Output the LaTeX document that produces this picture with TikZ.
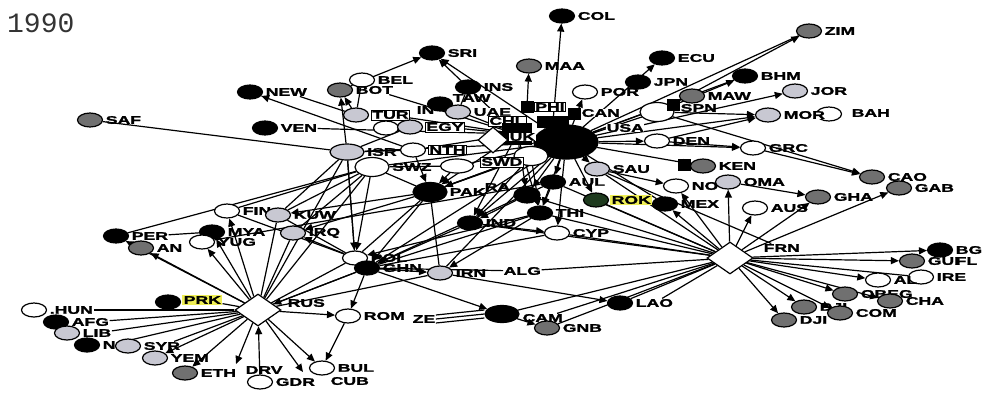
\documentclass[tikz,border=0pt]{standalone}
\usepackage{fontspec}
\usetikzlibrary{shapes.geometric,arrows.meta}
\newfontfamily\lblfont[FakeStretch=1.6, BoldFeatures={FakeBold=2}]{Liberation Sans}
\newfontfamily\yearfont{Liberation Mono}
\definecolor{nodegray}{HTML}{707070}
\definecolor{nodelight}{HTML}{C8C8D2}
\definecolor{hilite}{HTML}{EEEE55}
\definecolor{darkgreen}{HTML}{1E3A1E}
\pgfdeclarelayer{paper}
\pgfdeclarelayer{edges}
\pgfsetlayers{paper,edges,main}
\tikzset{
  cty/.style={ellipse, draw=black, line width=1.2pt, minimum width=25pt, minimum height=14pt, inner sep=0pt},
  blk/.style={cty, fill=black},
  gry/.style={cty, fill=nodegray},
  lgt/.style={cty, fill=nodelight},
  wht/.style={cty, fill=white},
  big/.style={minimum width=34pt, minimum height=19pt},
  sq/.style={rectangle, fill=black, minimum width=13pt, minimum height=12pt, inner sep=0pt},
  dmd/.style={diamond, draw=black, fill=white, line width=1.2pt, minimum width=46pt, minimum height=32pt, inner sep=0pt},
  lbl/.style={font=\lblfont\bfseries\fontsize{11}{12}\selectfont, inner sep=0.5pt, anchor=west},
  boxl/.style={lbl, draw=black, fill=white, line width=0.6pt, inner sep=1pt},
  wl/.style={lbl, fill=white},
  hil/.style={lbl, fill=hilite, inner sep=1.5pt},
  ln/.style={line width=1.2pt},
  ar/.style={ln, -{Triangle[length=8pt,width=7pt]}},
}
% country node with a label to its right
\newcommand\ctry[6][lbl]{%
  \node[#3] (#2) at (#4,#5) {};
  \node[#1] (#2-l) at ([xshift=2pt]#2.east) {#6};}

\begin{document}
\begin{tikzpicture}[x=1pt,y=-1pt]
\useasboundingbox (0,0) rectangle (982,392);
\begin{pgfonlayer}{paper}
\fill[white] (0,0) rectangle (982,392);
\end{pgfonlayer}

\node[font=\yearfont\fontsize{28}{30}\selectfont, text=black!80, anchor=west, inner sep=0pt] (yr) at (7,23) {1990};

% ---- upper group
\ctry{COL}{blk}{562}{16}{COL}
\ctry{ZIM}{gry}{809}{31}{ZIM}
\ctry{SRI}{blk}{432}{53}{SRI}
\ctry{ECU}{blk}{662}{58}{ECU}
\ctry{MAA}{gry}{529}{66}{MAA}
\ctry{BHM}{blk}{745}{76}{BHM}
\ctry{BEL}{wht}{362}{80}{BEL}
\ctry{JPN}{blk}{638}{82}{JPN}
\ctry{INS}{blk}{468}{87}{INS}
\ctry{JOR}{lgt}{795}{91}{JOR}
\ctry{NEW}{blk}{250}{92}{NEW}
\ctry{BOT}{gry}{340}{90}{BOT}
\ctry{POR}{wht}{585}{92}{POR}
\ctry{MAW}{gry}{692}{96}{MAW}
\node[blk] (TAW) at (440,104) {};
\node[lbl] (TAW-l) at (452,98) {TAW};
\ctry[boxl]{TUR}{lgt}{356}{115}{TUR}
\node[lbl] (IN-l) at (416,110) {IN};
\ctry[wl]{UAE}{lgt}{458}{112}{UAE}
\node[sq] (PHI) at (527,107) {};
\node[boxl] (PHI-l) at (534,107) {PHI};
\node[sq] (CAN) at (574,114) {};
\node[wl] (CAN-l) at (581,113) {CAN};
\node[sq, minimum width=32pt] (hb) at (553,122) {};
\node[boxl] (CHL-l) at (488,121) {CHL};
\node[wht, big] (SPN) at (657,112) {};
\node[sq] (SPNb) at (673,105) {};
\node[lbl] (SPN-l) at (680,108) {SPN};
\node[wht] (BAH) at (829,114) {};
\node[lbl] (BAH-l) at (851,113) {BAH};
\ctry[wl]{MOR}{lgt}{768}{115}{MOR}
\ctry{SAF}{gry}{90}{120}{SAF}
\ctry{VEN}{blk}{265}{128}{VEN}
\node[wht] (EGYw) at (386,128) {};
\ctry[boxl]{EGY}{lgt}{410}{127}{EGY}

% ---- central hub
\node[sq, minimum width=30pt, minimum height=22pt] (UK) at (517,134) {};
\node[dmd, minimum width=30pt, minimum height=26pt] (UKd) at (493,140) {};
\node[blk, minimum width=64pt, minimum height=34pt] (USA) at (566,142) {};
\node[wl] (USA-l) at (606,128) {USA};
\node[wht, big] (W1) at (531,156) {};
\node[lbl, fill=white] (UK-l) at (509,137) {UK};
\ctry{DEN}{wht}{657}{141}{DEN}
\ctry{GRC}{wht}{753}{148}{GRC}
\ctry{ISR}{lgt, big, minimum height=16pt}{347}{152}{ISR}
\ctry[boxl]{NTH}{wht}{413}{150}{NTH}
\ctry{SWZ}{wht, big}{372}{167}{SWZ}
\node[wht, minimum width=33pt, minimum height=14pt] (SWD) at (457,166) {};
\node[boxl] (SWD-l) at (480,162) {SWD};
\node[sq] (KENb) at (684,165) {};
\ctry{KEN}{gry}{703}{166}{KEN}
\ctry{SAU}{lgt}{597}{169}{SAU}
\ctry{NOR}{wht}{676}{186}{NO}
\ctry{OMA}{lgt}{728}{182}{OMA}
\ctry{CAO}{gry}{872}{177}{CAO}
\ctry{GAB}{gry}{899}{188}{GAB}
\node[blk, big] (PAK) at (430,192) {};
\node[lbl] (PAK-l) at (449,192) {PAK};
\node[blk, minimum width=26pt, minimum height=16pt] (RAb) at (527,195) {};
\node[lbl] (RA-l) at (484,187) {RA};
\ctry{AUL}{blk}{553}{182}{AUL}
\ctry{GHA}{gry}{818}{197}{GHA}
\ctry{MEX}{blk}{665}{204}{MEX}
\node[cty, fill=darkgreen] (ROK) at (596,200) {};
\node[hil] (ROK-l) at (610,200) {ROK};
\ctry{AUS}{wht}{755}{208}{AUS}
\ctry{THI}{blk}{540}{213}{THI}
\ctry{FIN}{wht}{227}{211}{FIN}
\ctry{KUW}{lgt}{278}{215}{KUW}
\ctry{IND}{blk}{470}{223}{IND}
\ctry{CYP}{wht}{557}{233}{CYP}
\ctry{MYA}{blk}{212}{232}{MYA}
\ctry{IRQ}{lgt}{293}{233}{IRQ}
\ctry{PER}{blk}{116}{236}{PER}
\ctry{YUG}{wht}{202}{242}{YUG}
\ctry{ANG}{gry}{141}{248}{AN}

% ---- lower group
\node[dmd] (FRN) at (730,258) {};
\node[lbl] (FRN-l) at (763,248) {FRN};
\ctry{POL}{wht}{355}{258}{POL}
\ctry{GHN}{blk}{367}{268}{GHN}
\ctry{IRN}{lgt}{440}{273}{IRN}
\node[lbl] (ALG) at (503,271) {ALG};
\ctry{BG}{blk}{940}{250}{BG}
\ctry{GUI}{gry}{912}{261}{GUI}
\node[lbl] (FL-l) at (955,261) {FL};
\ctry{IRE}{wht}{921}{277}{IRE}
\ctry{AL}{wht}{878}{280}{AL}
\ctry{CBE}{gry}{845}{294}{OBEG}
\ctry{CHA}{gry}{890}{301}{CHA}
\ctry{BDI}{gry}{804}{307}{DJI}
\ctry{COM}{gry}{840}{313}{COM}
\ctry{DJI}{gry}{784}{320}{DJI}
\ctry{HUN}{wht}{34}{310}{.HUN}
\node[blk] (PRK) at (168,302) {};
\node[hil] (PRK-l) at (182,300) {PRK};
\node[dmd] (RUS) at (258,310) {};
\node[lbl] (RUS-l) at (287,303) {RUS};
\ctry{AFG}{blk}{56}{322}{AFG}
\ctry{LIB}{lgt}{67}{333}{LIB}
\ctry{ROM}{wht}{348}{316}{ROM}
\node[lbl] (ZE-l) at (412,319) {ZE};
\node[blk, big, minimum height=17pt] (CAM) at (502,314) {};
\node[lbl] (CAM-l) at (522,318) {CAM};
\ctry{LAO}{blk}{620}{303}{LAO}
\ctry{GNB}{gry}{547}{328}{GNB}
\ctry{NN}{blk}{87}{345}{N}
\ctry{SYR}{lgt}{128}{346}{SYR}
\ctry{YEM}{lgt}{155}{358}{YEM}
\ctry{ETH}{gry}{185}{373}{ETH}
\node[lbl] (DRV-l) at (245,370) {DRV};
\coordinate (DRVc) at (236,364);
\ctry{BUL}{wht}{322}{368}{BUL}
\ctry{GDR}{wht}{260}{382}{GDR}
\node[lbl] (CUB-l) at (330,381) {CUB};
\coordinate (CUBc) at (303,372);

\begin{pgfonlayer}{edges}
% directed ties
\foreach \a/\b in {hb/COL, PHI/MAA, BOT/SRI, UK/SRI, USA/SRI, USA/ECU, USA/POR,
  SPN/ZIM, SPN/BHM, USA/JOR, SPN/MOR, USA/MOR, DEN/MOR, USA/MAW, TUR/BOT, ISR/BOT,
  NTH/NEW, USA/DEN, DEN/GRC, USA/GRC, SPN/CAO, GRC/CAO, USA/KEN, USA/SAU, SAU/NOR,
  OMA/GHA, FRN/OMA, FRN/NOR, FRN/AUS, FRN/GHA, FRN/GAB, FRN/MEX, FRN/BG, FRN/GUI,
  FRN/AL, FRN/CBE, FRN/CHA, FRN/BDI, FRN/COM, FRN/DJI, USA/THI, USA/AUL, USA/PAK,
  UK/PAK, USA/IND, USA/CYP, PAK/KUW, PAK/IRQ, RUS/PER, RUS/ANG, RUS/YUG, RUS/MYA,
  RUS/FIN, POL/IRQ, GHN/IRN, GHN/ROM, GHN/RUS, GHN/CAM, IRN/LAO, ROM/BUL, RUS/ROM,
  RUS/ETH, RUS/DRVc, RUS/CUBc, RUS/BUL, GDR/RUS, RUS/YEM, PAK/GHN, THI/IRN,
  IND/CYP, AUL/THI, CAM/GNB, USA/ROK, SWZ/POL, ISR/POL, UK/THI, W1/IND,
  RAb/IND, UK/RAb, W1/THI, THI/POL, AUL/GHN, SWD/PAK, UK/IND, USA/RAb, NTH/PAK}
  \draw[ar] (\a) -- (\b);
% undirected ties
\foreach \a/\b in {SAF/ISR, NEW-l/TUR, BEL/TUR, BOT-l/UK, VEN-l/UK, ISR/USA, SWZ/USA,
  NTH/UK, EGY-l/UK, TUR-l/UK, SWZ/PAK, SWZ/SWD, PER/SWZ, PER-l/MYA, SWZ/FIN, SWZ/KUW,
  AUL/YUG, RUS/KUW, RUS/IRQ, RUS/POL, RUS/GHN, RUS/SWZ, RUS/ISR, RUS/HUN-l, RUS/AFG-l,
  RUS/LIB-l, RUS/NN-l, RUS/SYR-l, RUS/PRK-l, GHN/ALG, FRN/ALG, FRN/CAM, FRN/LAO,
  FRN/GNB, FRN/CYP, FRN/IND, FRN/THI, FRN/ROK, FRN/AUL, FRN/IRE, FRN/SAU, POL/KUW,
  POL/FIN, IRN/PAK, IRN/USA, GHN/THI, USA/BHM, USA/ZIM, SPN/USA, EGY/ISR, NTH/ISR,
  PAK/USA, SWD/USA, W1/PAK, RUS/IRN, GHN/USA, POL/PAK, IND/GHN, SAU/FRN-l, MEX/USA,
  FRN/CAM-l, FRN/LAO-l, FRN/RAb, ISR/KUW, SWZ/IRQ, POL/ISR, CYP/GHN, UAE/INS, TAW/UK}
  \draw[ln] (\a) -- (\b);
\foreach \d in {-4,0,4}
  \draw[ln] ([yshift=\d pt]ZE-l.east) -- ([yshift=\d pt]CAM.west);
\end{pgfonlayer}
\end{tikzpicture}
\end{document}
